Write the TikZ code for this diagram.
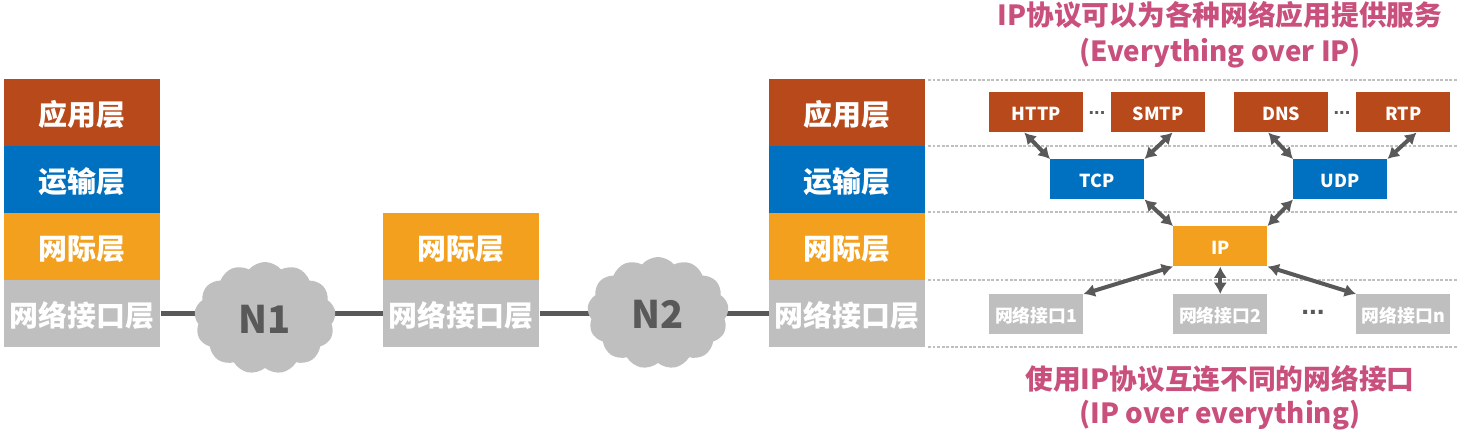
\documentclass[tikz,border=0pt]{standalone}
\usepackage{fontspec}
\setmainfont{Noto Sans CJK SC}
\newfontfamily\dotfont{Liberation Sans}
\usetikzlibrary{shapes.symbols,arrows.meta,backgrounds}
\definecolor{appc}{HTML}{B7491A}
\definecolor{trac}{HTML}{0070C0}
\definecolor{netc}{HTML}{F2A01E}
\definecolor{linkc}{HTML}{BFBFBF}
\definecolor{pinkc}{HTML}{C9507C}
\definecolor{darkc}{HTML}{595959}
\newcommand{\fs}[1]{\fontsize{#1}{#1}\selectfont}
\tikzset{
  x=0.75pt,y=-0.75pt,
  layerbox/.style={minimum width=117pt,minimum height=50.25pt,inner sep=0pt,text=white,font=\fs{21.7}\bfseries,anchor=north west,text height=22pt,text depth=3.4pt},
  smallbox/.style={minimum width=70.5pt,minimum height=30pt,inner sep=0pt,text=white,font=\fs{13.4}\bfseries,anchor=north west,text height=14pt,text depth=2pt},
  linkbox/.style={smallbox,fill=linkc},
  conn/.style={line width=4pt,draw=darkc},
  twoway/.style={line width=3pt,draw=darkc,{Latex[length=8.5pt,width=10pt]}-{Latex[length=8.5pt,width=10pt]}},
  cloudy/.style={cloud,cloud puffs=13,cloud puff arc=100,aspect=1.25,fill=linkc,text=darkc,font=\fs{28.5}\bfseries,inner sep=0pt,minimum width=106pt,minimum height=84pt,text height=26pt,text depth=3pt},
  guide/.style={draw=linkc,line width=0.9pt,dash pattern=on 2.2pt off 1.2pt},
  pinktext/.style={text=pinkc,font=\fs{20.8}\bfseries,inner sep=0pt},
  dots/.style={text=darkc,inner sep=0pt}
}
\begin{document}
\begin{tikzpicture}
\useasboundingbox (0,0) rectangle (1457,432);
% left stack
\node[layerbox,fill=appc] (a1) at (4,79) {应用层};
\node[layerbox,fill=trac] (a2) at (4,146) {运输层};
\node[layerbox,fill=netc] (a3) at (4,213) {网际层};
\node[layerbox,fill=linkc] (a4) at (4,280) {网络接口层};
% middle stack
\node[layerbox,fill=netc] (b3) at (383,213) {网际层};
\node[layerbox,fill=linkc] (b4) at (383,280) {网络接口层};
% right stack
\node[layerbox,fill=appc] (c1) at (769,79) {应用层};
\node[layerbox,fill=trac] (c2) at (769,146) {运输层};
\node[layerbox,fill=netc] (c3) at (769,213) {网际层};
\node[layerbox,fill=linkc] (c4) at (769,280) {网络接口层};
% clouds
\node[cloudy] (n1) at (265,318) {N1};
\node[cloudy] (n2) at (658,313) {N2};
\begin{scope}[on background layer]
\draw[conn] (a4.east) -- (b4.west);
\draw[conn] (b4.east) -- (c4.west);
\end{scope}
% guides
\coordinate (g1) at (1457,80);
\coordinate (g2) at (1457,146);
\coordinate (g3) at (1457,212);
\coordinate (g4) at (1457,280);
\coordinate (g5) at (1457,347);
\coordinate (h1) at (928,80);
\coordinate (h2) at (928,146);
\coordinate (h3) at (928,212);
\coordinate (h4) at (928,280);
\coordinate (h5) at (928,347);
\foreach \i in {1,...,5} \draw[guide] (h\i) -- (g\i);
% small boxes
\node[smallbox,fill=appc] (http) at (989,92) {HTTP};
\node[smallbox,fill=appc] (smtp) at (1111,92) {SMTP};
\node[smallbox,fill=appc] (dns) at (1234,92) {DNS};
\node[smallbox,fill=appc] (rtp) at (1356,92) {RTP};
\node[smallbox,fill=trac] (tcp) at (1050,159) {TCP};
\node[smallbox,fill=trac] (udp) at (1293,159) {UDP};
\node[smallbox,fill=netc] (ip) at (1173,226) {IP};
\node[linkbox] (if1) at (989,294) {网络接口1};
\node[linkbox] (if2) at (1173,294) {网络接口2};
\node[linkbox] (ifn) at (1356,294) {网络接口n};
\node[dots] (d1) at (1097,113) {\dotfont\bfseries\fs{15}...};
\node[dots] (d2) at (1342,113) {\dotfont\bfseries\fs{15}...};
\node[dots] (d3) at (1313,312) {\dotfont\bfseries\fs{21}...};
% arrows
\draw[twoway] ([xshift=-9pt]http.south) -- (tcp.north west);
\draw[twoway] ([xshift=-24.75pt]smtp.south east) -- (tcp.north east);
\draw[twoway] ([xshift=-9.75pt]dns.south) -- (udp.north west);
\draw[twoway] ([xshift=-25.5pt]rtp.south east) -- (udp.north east);
\draw[twoway] (tcp.south east) -- (ip.north west);
\draw[twoway] (udp.south west) -- (ip.north east);
\draw[twoway] (ip.south west) -- (if1.north east);
\draw[twoway] (ip.south) -- (if2.north);
\draw[twoway] (ip.south east) -- (ifn.north west);
% captions
\node[pinktext] (t1) at (1220,15) {IP协议可以为各种网络应用提供服务};
\node[pinktext] (t2) at (1220,53) {(Everything over IP)};
\node[pinktext] (t3) at (1220,379) {使用IP协议互连不同的网络接口};
\node[pinktext] (t4) at (1220,415) {(IP over everything)};
\end{tikzpicture}
\end{document}
